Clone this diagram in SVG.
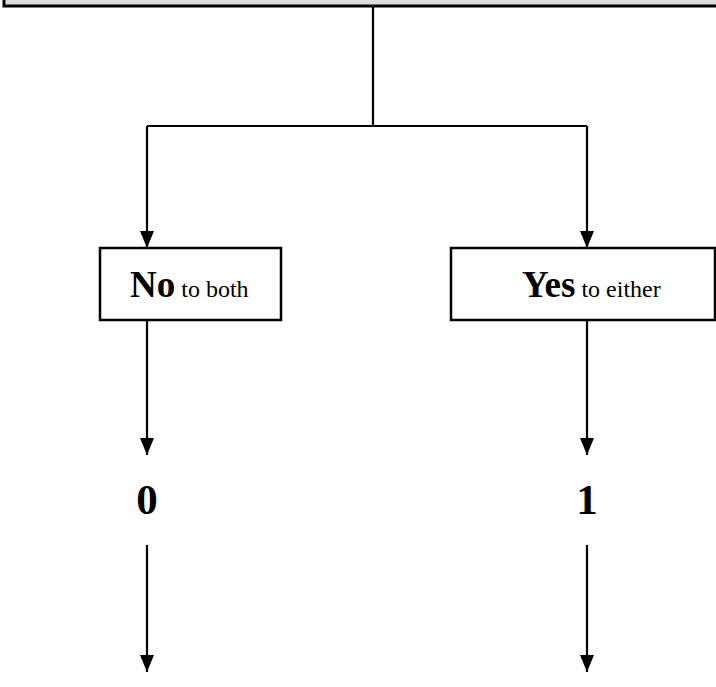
<svg xmlns="http://www.w3.org/2000/svg" width="716" height="687" viewBox="0 0 716 687">
<defs>
<style>
.box{fill:#fff;stroke:#000;stroke-width:2.5}
.top{fill:#dcdcdc;stroke:#000;stroke-width:3}
.ln{fill:none;stroke:#000;stroke-width:2.2}
.t{font-family:"Liberation Serif","Times New Roman",serif;fill:#000}
.b{font-weight:bold}
</style>
<marker id="ah" markerUnits="userSpaceOnUse" markerWidth="18" markerHeight="16" refX="17" refY="8" orient="auto" viewBox="0 0 18 16">
<path d="M0,1 L17,8 L0,15 Z" fill="#000"/>
</marker>
</defs>
<g id="top-node">
<rect class="top" x="4" y="-40" width="730" height="46"/>
</g>
<g id="no-node">
<rect class="box" x="100" y="248" width="181" height="72"/>
<text class="t" x="130" y="297"><tspan class="b" font-size="37">No</tspan><tspan font-size="24"> to both</tspan></text>
</g>
<g id="yes-node">
<rect class="box" x="451" y="248" width="264" height="72"/>
<text class="t" x="522" y="297"><tspan class="b" font-size="37">Yes</tspan><tspan font-size="24"> to either</tspan></text>
</g>
<g id="zero-node">
<text class="t b" x="147" y="514" font-size="43" text-anchor="middle">0</text>
</g>
<g id="one-node">
<text class="t b" x="587" y="514" font-size="43" text-anchor="middle">1</text>
</g>
<g id="connectors">
<polyline class="ln" points="373,6 373,126"/>
<polyline class="ln" points="147,126 587,126"/>
<line class="ln" x1="147" y1="126" x2="147" y2="248" marker-end="url(#ah)"/>
<line class="ln" x1="587" y1="126" x2="587" y2="248" marker-end="url(#ah)"/>
<line class="ln" x1="147" y1="320" x2="147" y2="455" marker-end="url(#ah)"/>
<line class="ln" x1="587" y1="320" x2="587" y2="455" marker-end="url(#ah)"/>
<line class="ln" x1="147" y1="545" x2="147" y2="672" marker-end="url(#ah)"/>
<line class="ln" x1="587" y1="545" x2="587" y2="672" marker-end="url(#ah)"/>
</g>
</svg>
